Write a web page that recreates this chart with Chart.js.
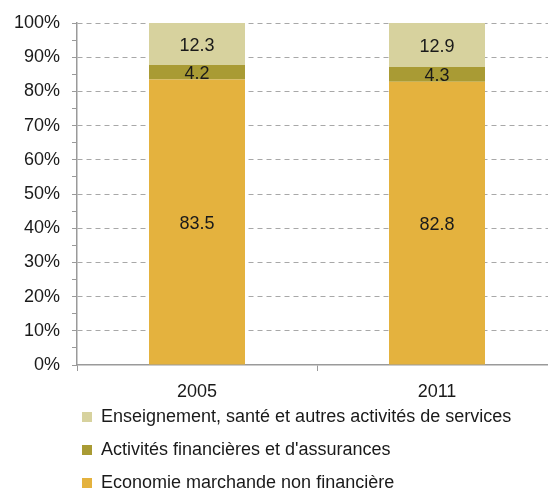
<!DOCTYPE html>
<html>
<head>
<meta charset="utf-8">
<script src="https://cdn.jsdelivr.net/npm/chart.js@4.4.1/dist/chart.umd.min.js"></script>
<style>
  html, body { margin: 0; padding: 0; background: #fff; overflow: hidden; }
  /* the original plot runs a little past the right edge of the picture */
  #wrap { width: 557px; height: 493px; }
</style>
</head>
<body>
<div id="wrap"><canvas id="myChart"></canvas></div>
<script>
// Data
const years = ['2005', '2011'];
const economieMarchande = [83.5, 82.8];
const activitesFinancieres = [4.2, 4.3];
const enseignementSante = [12.3, 12.9];

const FONT = "'Liberation Sans', Arial, sans-serif";
const GRID = '#a8a8a8';
const AXIS = '#9a9a9a';

// Write the values in the middle of each bar segment
const barValues = {
    id: 'barValues',
    afterDatasetsDraw(chart) {
        const ctx = chart.ctx;
        ctx.save();
        ctx.font = '18px ' + FONT;
        ctx.fillStyle = '#1a1a1a';
        ctx.textAlign = 'center';
        ctx.textBaseline = 'middle';
        chart.data.datasets.forEach((ds, i) => {
            chart.getDatasetMeta(i).data.forEach((bar, j) => {
                ctx.fillText(ds.data[j].toFixed(1), bar.x, (bar.y + bar.base) / 2 + 2);
            });
        });
        ctx.restore();
    }
};

// Legend rows start under the y axis and sit just below the year labels
const legendPlace = {
    id: 'legendPlace',
    afterLayout(chart) {
        chart.legend.left = 67;
        chart.legend.top = 393;
        chart.legend.bottom = 493;
    }
};

const ctx = document.getElementById('myChart').getContext('2d');
new Chart(ctx, {
    type: 'bar',
    data: {
        labels: years,
        datasets: [
            { label: 'Economie marchande non financière', data: economieMarchande, backgroundColor: '#e4b23e' },
            { label: "Activités financières et d'assurances", data: activitesFinancieres, backgroundColor: '#a99b34' },
            { label: 'Enseignement, santé et autres activités de services', data: enseignementSante, backgroundColor: '#d7d29e' }
        ]
    },
    options: {
        responsive: true,
        maintainAspectRatio: false,
        animation: false,
        datasets: {
            bar: { categoryPercentage: 1, barPercentage: 0.4 }
        },
        layout: {
            padding: { left: 0, right: 0, top: 23, bottom: 0 }
        },
        plugins: {
            tooltip: { enabled: false },
            legend: {
                position: 'bottom',
                align: 'start',
                reverse: true,
                maxHeight: 90,
                labels: {
                    boxWidth: 10,
                    boxHeight: 10,
                    padding: 15,
                    color: '#1a1a1a',
                    font: { family: FONT, size: 18 }
                }
            }
        },
        scales: {
            x: {
                stacked: true,
                afterFit: s => { s.height = 38; },
                grid: {
                    drawOnChartArea: false,
                    drawTicks: true,
                    tickLength: 6,
                    color: AXIS
                },
                border: { color: AXIS, width: 1.5 },
                ticks: {
                    color: '#1a1a1a',
                    padding: 10,
                    font: { family: FONT, size: 18 }
                }
            },
            y: {
                stacked: true,
                min: 0,
                max: 100,
                afterFit: s => { s.width = 77; },
                afterBuildTicks: s => {
                    const t = [];
                    for (let v = 0; v <= 100; v += 5) t.push({ value: v });
                    s.ticks = t;
                },
                grid: {
                    color: c => (c.tick && c.tick.value % 10 === 0 && c.tick.value > 0) ? GRID : 'transparent',
                    tickColor: AXIS,
                    tickLength: 5,
                    tickBorderDash: [],
                    lineWidth: 1
                },
                // in v4 the dash here is used by the grid lines
                border: { color: AXIS, width: 1.5, dash: [5, 4] },
                ticks: {
                    autoSkip: false,
                    padding: 12,
                    color: '#1a1a1a',
                    font: { family: FONT, size: 18 },
                    callback: v => (v % 10 === 0 ? v + '%' : '')
                }
            }
        }
    },
    plugins: [barValues, legendPlace]
});
</script>
</body>
</html>
